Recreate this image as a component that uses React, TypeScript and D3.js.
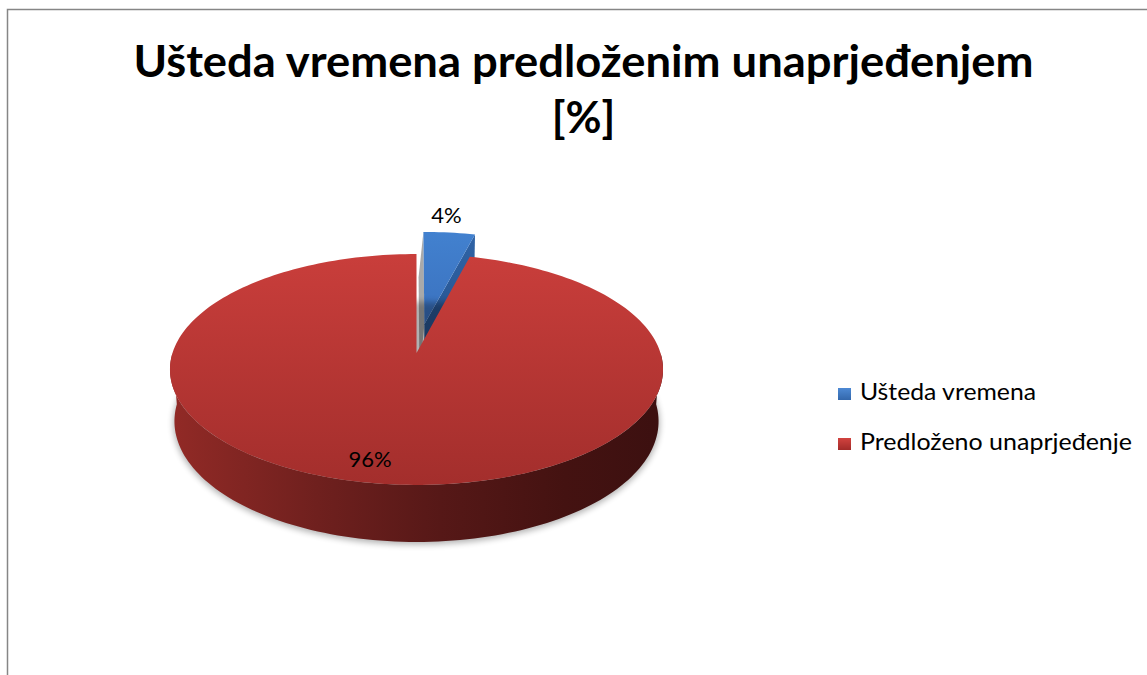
import * as d3 from 'd3'

// chart data
const categories = ['Ušteda vremena', 'Predloženo unaprjeđenje']
const values = [4, 96]
const valueLabels = ['4%', '96%']
const titleLines = ['Ušteda vremena predloženim unaprjeđenjem', '[%]']

// 3D pie setup (screen px)
const W = 1147
const H = 675
const cx = 416.5
const cy = 353
const R = 244
const depth = 59
const sinT = 0.4635
const cosT = Math.sqrt(1 - sinT * sinT)
const camDist = 1513
const explodeBy = [65, 0] // blue slice is pulled out
const wallSkew = 0.08

// X right, Y up, Z toward viewer
function proj(X: number, Y: number, Z: number): [number, number] {
  const d = Z * cosT + Y * sinT
  const s = camDist / (camDist - d)
  return [cx + X * s, cy + (Z * sinT - Y * cosT) * s]
}

const line = d3.line<[number, number]>().curve(d3.curveLinear)

const arcs = d3
  .pie<number>()
  .sort(null)
  .value((d) => d)(values)

function sampleAngles(a0: number, a1: number) {
  const n = Math.max(2, Math.ceil(((a1 - a0) / Math.PI) * 120))
  return d3.range(n + 1).map((i) => a0 + ((a1 - a0) * i) / n)
}

function slicePaths(i: number) {
  const a = arcs[i]
  const mid = (a.startAngle + a.endAngle) / 2
  const ox = explodeBy[i] * Math.sin(mid)
  const oz = -explodeBy[i] * Math.cos(mid)
  const pt = (ang: number, r: number, y: number) =>
    proj(ox + r * Math.sin(ang), y, oz - r * Math.cos(ang))

  const rim = sampleAngles(a.startAngle, a.endAngle)
  const top = line([pt(0, 0, 0), ...rim.map((g) => pt(g, R, 0))]) + 'Z'

  // outer side, only the part facing the viewer
  const s0 = Math.max(a.startAngle, Math.PI / 2)
  const s1 = Math.min(a.endAngle, (3 * Math.PI) / 2)
  let side: string | null = null
  let shadow: string | null = null
  if (s1 > s0) {
    const ss = sampleAngles(s0, s1)
    side =
      line([
        ...ss.map((g) => pt(g, R, 0)),
        ...ss
          .slice()
          .reverse()
          .map((g) => pt(g, R, -depth)),
      ]) + 'Z'
    const all = sampleAngles(0, 2 * Math.PI)
    shadow = line(all.map((g) => pt(g, R * 1.005, -depth - 2))) + 'Z'
  }

  // radial walls
  const e = a.endAngle
  const rightWall =
    line([pt(e, 0, 0), pt(e, R, 0), pt(e, R, -depth), pt(e, 0, -depth)]) + 'Z'
  const s = a.startAngle
  const sk = depth * wallSkew
  const lb0 = pt(s, 0, -depth)
  const lb1 = pt(s, R, -depth)
  const leftWall =
    line([pt(s, 0, 0), pt(s, R, 0), [lb1[0] - sk, lb1[1]], [lb0[0] - sk, lb0[1]]]) + 'Z'

  const outerMid = pt(mid, R, 0)
  const inner = pt(mid, R * 0.845, 0)
  return { top, side, shadow, rightWall, leftWall, outerMid, inner }
}

const blue = slicePaths(0)
const red = slicePaths(1)

const legendX = 838
const legendY = 388
const legendStep = 50
const legendTextLen = [176, 272]

export default function App() {
  return (
    <svg
      width={W}
      height={H}
      style={{ position: 'absolute', left: 0, top: 0, background: '#fff' }}
      fontFamily="Lato, 'Open Sans', sans-serif"
    >
      <defs>
        <linearGradient id="redTop" gradientUnits="userSpaceOnUse" x1="0" y1="254" x2="0" y2="486">
          <stop offset="0" stopColor="#c93e3b" />
          <stop offset="1" stopColor="#a32e2c" />
        </linearGradient>
        <linearGradient id="redSide" gradientUnits="userSpaceOnUse" x1="170" y1="0" x2="663" y2="0">
          <stop offset="0" stopColor="#922a26" />
          <stop offset="0.3" stopColor="#6f201e" />
          <stop offset="0.55" stopColor="#561817" />
          <stop offset="0.8" stopColor="#441211" />
          <stop offset="1" stopColor="#3c1010" />
        </linearGradient>
        <linearGradient id="blueTop" gradientUnits="userSpaceOnUse" x1="0" y1="232" x2="0" y2="330">
          <stop offset="0" stopColor="#4281cf" />
          <stop offset="1" stopColor="#3a70bd" />
        </linearGradient>
        <linearGradient id="blueWall" gradientUnits="userSpaceOnUse" x1="0" y1="235" x2="0" y2="380">
          <stop offset="0" stopColor="#2f63a6" />
          <stop offset="1" stopColor="#234c84" />
        </linearGradient>
        <linearGradient id="legBlue" x1="0" y1="0" x2="0" y2="1">
          <stop offset="0" stopColor="#4d89d4" />
          <stop offset="1" stopColor="#3367ab" />
        </linearGradient>
        <linearGradient id="legRed" x1="0" y1="0" x2="0" y2="1">
          <stop offset="0" stopColor="#d2433f" />
          <stop offset="1" stopColor="#a22b29" />
        </linearGradient>
        <filter id="soft" x="-10%" y="-10%" width="120%" height="130%">
          <feGaussianBlur stdDeviation="3" />
        </filter>
      </defs>

      <rect x={7.5} y={9.5} width={1170} height={700} fill="none" stroke="#868686" strokeWidth={1.5} />

      <text textAnchor="middle" fontWeight="bold" fontSize={44} fill="#000">
        <tspan x={583.5} y={77} textLength={900} lengthAdjust="spacingAndGlyphs">
          {titleLines[0]}
        </tspan>
        <tspan x={583.5} y={133}>
          {titleLines[1]}
        </tspan>
      </text>

      {/* blue (exploded) slice */}
      <path d={blue.leftWall} fill="#a9a9a9" />
      <path d={blue.rightWall} fill="url(#blueWall)" />
      <path d={blue.top} fill="url(#blueTop)" />

      {/* red slice */}
      {red.shadow && <path d={red.shadow} fill="#000" opacity={0.3} filter="url(#soft)" />}
      {red.side && <path d={red.side} fill="url(#redSide)" />}
      <path d={red.top} fill="url(#redTop)" />

      <text x={blue.outerMid[0] - 3} y={blue.outerMid[1] - 10} textAnchor="middle" fontSize={22} fill="#000">
        {valueLabels[0]}
      </text>
      <text x={red.inner[0] - 17} y={red.inner[1] + 6} textAnchor="middle" fontSize={22} fill="#000">
        {valueLabels[1]}
      </text>

      {categories.map((c, i) => (
        <g key={c} transform={`translate(${legendX},${legendY + i * legendStep})`}>
          <rect width={13} height={12} fill={i === 0 ? 'url(#legBlue)' : 'url(#legRed)'} />
          <text x={22} y={11.5} fontSize={23} fill="#000" textLength={legendTextLen[i]} lengthAdjust="spacingAndGlyphs">
            {c}
          </text>
        </g>
      ))}
    </svg>
  )
}
